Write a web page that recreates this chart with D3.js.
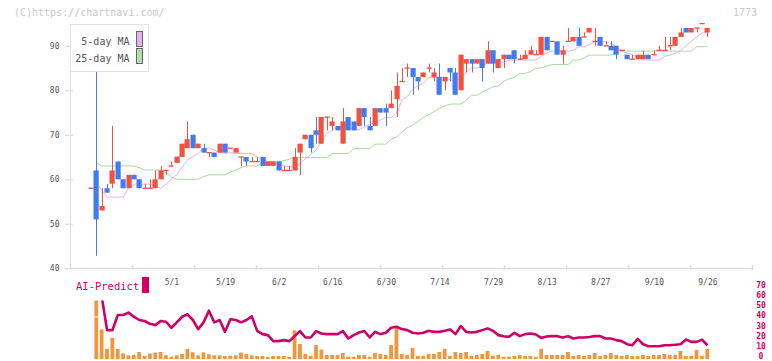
<!DOCTYPE html>
<html><head><meta charset="utf-8">
<script src="https://cdn.jsdelivr.net/npm/d3@7"></script>
<style>
body{margin:0;background:#fff}
svg{display:block}
text{font-family:"DejaVu Sans Mono",monospace}
</style>
</head><body>
<svg id="c" width="772" height="361"></svg>
<script>
// ---------- data ----------
const openP=[58,62,53,58,59,64,60,58,61,60,
58,58,58,60,62,63,63.7,65,67,70,
67,67,66,66,66,68,67,66,65,65,
64,64,65,63,63,64,62,62,62,66,
69,70,71,68,74,72,72,68,74,73,
72,76,72,72,76,76,76,78,82,85,
85,83,83,85,83,83,82,85,84,80,
86,87,86,87,86,89,85,87,88,89,
87,87,88,88,88,92,91,91,88,91,
91,92,92,93,91,92,90,90,90,89,
88,87,87,87,88,88,89,89,90,90,
92,94,93,94,95,93];
const closeP=[58,51,54,57,62,60,58,61,60,58,
58,58,60,62,62,63,65.1,68,69,67,
68,66,66,65,68,66,67,67,65,64,
64,64,63,64,64,62,62,62,65,68,
70,67,70,74,74,73,71,73,71,71,
76,74,71,76,75,75,77,81,82,85,
83,82,84,85,84,79,83,84,79,88,
87,86,87,85,89,86,87,88,87,87,
87,88,89,88,92,89,91,88,89,91,
92,90,92,94,91,90,90,89,88,89,
87,87,88,88,87,88,89,89,90,92,
93,93,94,94,95,94];
const highP=[58,86,58,59,72,64,60,61,61,60,
59,60,62,63,62,64,65.1,68,73,70,
68,68,66,66,68,68,67,67,65,65,
65,65,65,64,64,64,63,63,67,68,
70,70,74,74,74,74,72,76,74,73,
76,76,74,76,76,77,80,84,85,86,
85,83,84,86,85,86,83,85,85,88,
87,87,87,87,91,89,87,88,88,89,
88,89,90,89,92,92,91,91,90,94,
92,94,93,94,94,92,91,91,90,89,
88,88,88,89,88,89,90,92,92,92,
94,94,94,94,95,94];
const lowP=[58,42.8,53,57,58,60,58,58,60,58,
58,58,58,60,61,63,63.7,65,67,67,
67,66,65,65,66,66,67,66,63,63,
64,64,63,63,63,62,62,62,62,61,
69,66,68,68,71,71,71,68,71,71,
72,72,71,72,75,72,76,74,82,83,
79,80,83,84,82,79,80,82,79,80,
84,84,86,82,86,84,85,85,87,86,
87,87,88,88,88,89,91,88,86,91,
91,90,92,93,90,90,90,89,87,89,
87,87,87,87,87,88,89,89,89,90,
92,93,93,93,95,92];
const ma5=[null,59.3,57.6,56.0,56.0,56.0,56.0,58.0,58.9,58.9,
58.9,58.9,58.5,58.0,58.9,60.0,61.0,62.8,64.3,65.1,
65.8,67.0,67.0,66.6,66.0,65.8,66.0,65.8,65.8,65.8,
65.8,65.0,64.5,64.0,63.8,63.4,63.0,62.8,62.8,63.6,
64.6,65.6,66.6,68.4,70.3,71.0,71.8,71.8,71.6,71.3,
71.1,71.8,72.4,72.7,73.3,73.9,73.9,74.8,77.8,78.6,
80.2,81.0,81.6,82.9,82.9,82.9,82.9,82.4,81.9,82.9,
84.0,85.0,85.0,85.5,86.1,86.1,86.4,86.3,86.8,86.8,
86.8,86.8,86.8,86.8,87.6,88.4,88.8,88.8,88.8,88.8,
89.0,89.8,89.8,90.3,90.9,90.9,90.9,90.5,89.8,88.8,
88.4,88.0,87.4,86.8,86.8,86.8,86.8,87.6,87.9,88.3,
89.0,90.0,91.0,92.0,92.8,93.2];
const ma25=[null,63.7,63.0,63.0,63.0,63.0,63.0,63.0,63.0,62.6,
62.1,62.1,62.1,62.1,61.5,60.5,60.0,60.0,60.0,60.0,
60.0,60.6,61.0,61.0,61.0,61.0,61.6,62.1,62.6,63.0,
63.0,63.0,63.7,64.0,64.0,64.0,64.2,64.5,64.9,64.9,
64.9,64.9,64.9,64.9,64.9,65.8,65.8,65.8,65.8,66.9,
66.9,66.9,66.9,67.9,67.9,67.9,69.0,69.5,70.6,71.6,
72.2,73.0,73.9,74.5,75.2,75.9,76.5,76.9,76.9,76.9,
77.8,78.9,78.9,79.6,80.2,80.8,81.0,82.0,82.6,82.9,
83.8,83.8,84.2,85.0,85.0,85.4,85.8,85.8,85.8,85.8,
86.8,86.8,87.3,87.9,87.9,87.9,87.9,87.9,88.4,88.8,
88.8,88.8,88.8,88.8,88.8,88.8,88.8,88.8,88.8,88.8,
88.8,88.8,88.8,89.8,89.8,89.8];
const volume=[0,90,28.0,8.9,19.7,8.9,4.6,2.6,3.0,5.9,
2.0,4.3,5.3,5.9,2.6,1.3,2.6,3.9,8.9,5.6,
2.6,5.6,3.6,2.6,2.6,2.0,2.3,2.6,5.3,3.9,
2.5,2.0,2.0,1.0,2.0,2.0,2.0,1.0,27.0,13.8,
3.9,2.0,12.8,8.2,3.0,3.0,3.0,4.9,1.3,1.3,
3.0,3.0,1.3,4.9,3.9,3.0,12.8,29.6,3.9,3.0,
9.9,2.0,2.0,3.9,3.9,5.9,8.9,2.0,5.9,4.9,
5.9,2.0,3.0,3.9,6.9,2.0,3.0,1.2,1.3,2.0,
3.0,2.0,2.0,1.3,8.9,3.0,3.0,3.0,3.0,5.9,
2.0,3.0,2.0,3.0,4.9,2.0,3.0,4.9,3.0,2.0,
3.0,2.0,2.0,3.0,2.0,3.0,3.0,3.9,3.0,3.0,
6.9,2.0,2.0,7.9,2.0,8.9];
const predict=[null,75,60,27.3,27.3,42.1,42.1,44.4,40.4,37.2,
36.2,33.5,32.2,36.2,35.5,29.6,34.9,40.4,42.8,37.2,
28.3,34.9,46.3,34.9,37.2,25.6,37.9,37.2,34.9,37.2,
40.8,26.6,23.4,22.4,16.5,16.5,17.5,16.5,21.4,26.3,
20.1,20.1,26.3,24.0,23.4,23.4,23.4,26.3,19.1,22.4,
25.0,26.3,20.1,25.6,23.4,24.7,29.6,30.6,28.3,27.3,
24.7,24.0,24.7,26.6,25.6,25.6,26.6,28.0,23.4,31.3,
25.6,25.0,25.6,27.3,29.0,26.6,22.4,21.2,20.8,24.7,
21.4,23.4,24.0,23.0,19.7,21.0,21.4,21.4,20.1,21.4,
19.1,20.1,20.1,20.5,21.4,21.4,19.1,19.1,17.5,16.5,
13.5,12.5,18.7,13.5,11.5,11.5,11.5,12.5,12.5,13.0,
13.5,18.1,15.8,15.8,18.0,12.5];
const dateLabels=["5/1","5/19","6/2","6/16","6/30","7/14","7/29","8/13","8/27","9/10","9/26"];
const dateIndex=[15,25,35,45,55,65,75,85,95,105,115];
const priceTicks=[40,50,60,70,80,90];
const predictTicks=[0,10,20,30,40,50,60,70];
const legendLabels=["5-day MA","25-day MA"];

// ---------- colours ----------
const RED="#f2513f", BLUE="#3f7cf0", PINK="#e8b2e8", GREEN="#a9d9a0",
      ORANGE="#f0963c", MAGENTA="#cc0066", AXIS="#dddddd", LABEL="#555";

const svg=d3.select("#c");
const idx=d3.range(openP.length);
const x=d3.scaleLinear().domain([-3.92,123.32]).range([70,752]);
const y=d3.scaleLinear().domain([40,90]).range([268.3,45.8]);
const yb=d3.scaleLinear().domain([0,70]).range([358,286.5]);
const grid=d3.scaleLinear().domain([0,11]).range([70,752]);

// watermark & code
svg.append("text").attr("x",14).attr("y",15.5).attr("font-size",10).attr("fill","#c8c8c8").text("(C)https://chartnavi.com/");
svg.append("text").attr("x",757).attr("y",15.5).attr("text-anchor","end").attr("font-size",10).attr("fill","#c8c8c8").text("1773");

// y axis line + x axis line
svg.append("line").attr("x1",70.5).attr("x2",70.5).attr("y1",24).attr("y2",268.5).attr("stroke",AXIS);
svg.append("line").attr("x1",70).attr("x2",752.5).attr("y1",268.5).attr("y2",268.5).attr("stroke",AXIS).attr("stroke-width",1.5);

// x grid ticks
const gx=svg.append("g").attr("transform","translate(0,265)")
  .call(d3.axisBottom(grid).tickValues(d3.range(1,12)).tickSize(5).tickFormat(""));
gx.select(".domain").remove();
gx.selectAll("line").attr("stroke",AXIS).attr("stroke-width",1.5);

// y axis
const gy=svg.append("g").attr("transform","translate(73,0)")
  .call(d3.axisLeft(y).tickValues(priceTicks).tickSize(8).tickPadding(5.5));
gy.select(".domain").remove();
gy.selectAll("line").attr("stroke",AXIS).attr("stroke-width",1.2);
gy.selectAll("text").attr("font-size",8).attr("fill",LABEL).attr("font-family","DejaVu Sans Mono");

// date labels
const gd=svg.append("g").attr("transform","translate(0,276.3)")
  .call(d3.axisBottom(x).tickValues(dateIndex).tickSize(0).tickPadding(3).tickFormat((d,i)=>dateLabels[i]));
gd.select(".domain").remove();
gd.selectAll("text").attr("font-size",8).attr("fill",LABEL).attr("font-family","DejaVu Sans Mono");

// moving averages
const lineFor=arr=>d3.line().defined(i=>arr[i]!=null).x(i=>x(i)).y(i=>y(arr[i]));
svg.append("path").datum(idx).attr("d",lineFor(ma25)).attr("fill","none").attr("stroke",GREEN).attr("stroke-width",1);
svg.append("path").datum(idx).attr("d",lineFor(ma5)).attr("fill","none").attr("stroke",PINK).attr("stroke-width",1);

// candles
const cg=svg.append("g");
idx.forEach(i=>{
  const o=openP[i], c=closeP[i];
  const col = c>=o ? RED : BLUE;
  const cx=Math.round(x(i))+0.5;
  cg.append("line").attr("x1",cx).attr("x2",cx).attr("y1",y(highP[i])).attr("y2",y(lowP[i])).attr("stroke",col).attr("stroke-width",1);
  const top=y(Math.max(o,c)), bot=y(Math.min(o,c));
  cg.append("rect").attr("x",cx-3).attr("width",5.2)
    .attr("y",bot-top<1.2?top-0.6:top).attr("height",Math.max(1.3,bot-top)).attr("fill",col);
});

// legend
const lg=svg.append("g");
lg.append("rect").attr("x",70.5).attr("y",24.5).attr("width",78).attr("height",47).attr("fill","#fff").attr("stroke","#e2e2e2");
lg.selectAll("text.lg").data(legendLabels).join("text").attr("class","lg")
  .attr("x",129.5).attr("y",(d,i)=>44.5+i*17).attr("text-anchor","end").attr("font-size",10).attr("fill",LABEL).text(d=>d);
lg.selectAll("rect.sw").data([PINK,"#b4dcac"]).join("rect").attr("class","sw")
  .attr("x",136.5).attr("y",(d,i)=>31.5+i*17).attr("width",6).attr("height",15).attr("fill",d=>d).attr("stroke","#666");

// bottom panel
svg.append("text").attr("x",76).attr("y",290).attr("font-size",10.5).attr("fill",MAGENTA).text("AI-Predict");
svg.append("rect").attr("x",142).attr("y",277).attr("width",7).attr("height",16).attr("fill",MAGENTA);

svg.append("clipPath").attr("id","bp").append("rect").attr("x",70).attr("y",300.5).attr("width",690).attr("height",61);
const bp=svg.append("g").attr("clip-path","url(#bp)");
const clipTopVal=yb.invert(300.5);
bp.selectAll("rect.v").data(idx.filter(i=>volume[i]>0)).join("rect").attr("class","v")
  .attr("x",i=>x(i)-2).attr("width",3.8)
  .attr("y",i=>yb(volume[i])).attr("height",i=>yb(0)+1-yb(volume[i])).attr("fill",ORANGE);
// break mark on bars beyond the panel top
bp.selectAll("line.brk").data(idx.filter(i=>volume[i]>clipTopVal)).join("line").attr("class","brk")
  .attr("x1",i=>x(i)-2.5).attr("x2",i=>x(i)+2.5).attr("y1",317).attr("y2",317).attr("stroke","#fff").attr("stroke-width",1);
bp.append("path").datum(idx).attr("d",d3.line().defined(i=>predict[i]!=null).x(i=>x(i)).y(i=>yb(predict[i])))
  .attr("fill","none").attr("stroke",MAGENTA).attr("stroke-width",2.6).attr("stroke-linejoin","round");

const gr=svg.append("g").attr("transform","translate(758,-1.8)")
  .call(d3.axisRight(yb).tickValues(predictTicks).tickSize(0).tickPadding(3));
gr.select(".domain").remove();
gr.selectAll("text").attr("font-size",8).attr("font-weight","bold").attr("fill",MAGENTA).attr("text-anchor","middle").attr("font-family","DejaVu Sans Mono");
</script>
</body></html>
